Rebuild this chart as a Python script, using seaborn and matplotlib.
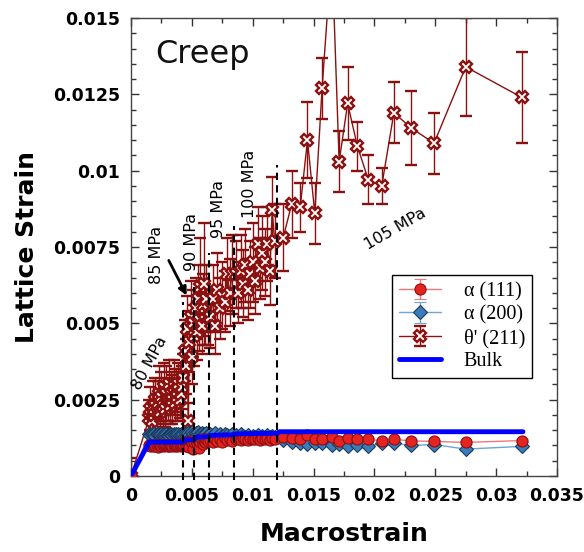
import matplotlib
matplotlib.use("Agg")
import matplotlib.pyplot as plt
import numpy as np
import pandas as pd
import seaborn as sns
from matplotlib.ticker import MultipleLocator, FuncFormatter

# ---------------- data ----------------
macrostrain = [0,
    0.0015, 0.0016, 0.0017, 0.0018, 0.0019, 0.0020, 0.0021, 0.0022, 0.0023, 0.0024,
    0.0025, 0.0026, 0.0027, 0.0028, 0.0029, 0.0030, 0.0031, 0.0032, 0.0033, 0.0034,
    0.0035, 0.0036, 0.0037, 0.0038, 0.0039, 0.0040, 0.0041, 0.0042,
    0.0043, 0.0044, 0.0045, 0.0046, 0.0047, 0.0048, 0.0049, 0.0050, 0.0051, 0.0052,
    0.0053, 0.0054, 0.0055, 0.0056, 0.0057, 0.0058, 0.0059, 0.0060, 0.0061, 0.0062, 0.0063,
    0.0065, 0.0067, 0.0069, 0.0071, 0.0073, 0.0075, 0.0077, 0.0079, 0.0081, 0.0083,
    0.0086, 0.0088, 0.0090, 0.0092, 0.0094, 0.0096, 0.0098, 0.0100, 0.0102, 0.0104,
    0.0106, 0.0108, 0.0110, 0.0112, 0.0114, 0.0116, 0.0118,
    0.0125, 0.0132, 0.0139, 0.0145, 0.0151, 0.0157, 0.0165, 0.0171, 0.0178, 0.0186,
    0.0195, 0.0206, 0.0216, 0.0230, 0.0249, 0.0275, 0.0321]

theta211 = [0,
    0.0019, 0.0022, 0.0018, 0.0023, 0.0020, 0.0025, 0.0021, 0.0024, 0.0027, 0.0021,
    0.0026, 0.0023, 0.0029, 0.0022, 0.0027, 0.0025, 0.0030, 0.0023, 0.0027, 0.0025,
    0.0029, 0.0024, 0.0028, 0.0026, 0.0030, 0.0025, 0.0027, 0.0029,
    0.0032, 0.0041, 0.0036, 0.0048, 0.0018, 0.0044, 0.0052, 0.0039, 0.0050, 0.0046,
    0.0055, 0.0047, 0.0058, 0.0051, 0.0062, 0.0049, 0.0056, 0.0063, 0.0053, 0.0058, 0.0052,
    0.0052, 0.0058, 0.0049, 0.0061, 0.0055, 0.0059, 0.0057, 0.0066, 0.0060, 0.0066,
    0.0066, 0.0060, 0.0067, 0.0063, 0.0069, 0.0061, 0.0066, 0.0070, 0.0064, 0.0076,
    0.0068, 0.0073, 0.0070, 0.0076, 0.0067, 0.0087, 0.0077,
    0.0078, 0.0089, 0.0088, 0.0110, 0.0086, 0.0127, 0.0172, 0.0103, 0.0122, 0.0108,
    0.0097, 0.0095, 0.0119, 0.0114, 0.0109, 0.0134, 0.0124]

theta211_err = [0.0006,
    0.0006, 0.0007, 0.0005, 0.0008, 0.0006, 0.0007, 0.0006, 0.0007, 0.0009, 0.0006,
    0.0008, 0.0007, 0.0008, 0.0006, 0.0009, 0.0007, 0.0008, 0.0006, 0.0007, 0.0008,
    0.0009, 0.0006, 0.0007, 0.0008, 0.0007, 0.0006, 0.0008, 0.0007,
    0.0008, 0.0010, 0.0009, 0.0011, 0.0006, 0.0010, 0.0012, 0.0009, 0.0011, 0.0010,
    0.0010, 0.0009, 0.0011, 0.0010, 0.0016, 0.0009, 0.0010, 0.0020, 0.0010, 0.0011, 0.0009,
    0.0010, 0.0011, 0.0009, 0.0012, 0.0010, 0.0011, 0.0010, 0.0012, 0.0011, 0.0013,
    0.0011, 0.0010, 0.0012, 0.0011, 0.0012, 0.0010, 0.0011, 0.0013, 0.0011, 0.0012,
    0.0010, 0.0012, 0.0011, 0.0012, 0.0011, 0.0011, 0.0012,
    0.0011, 0.0011, 0.0008, 0.00125, 0.0010, 0.0010, 0.0012, 0.0010, 0.0012, 0.0008,
    0.0008, 0.0006, 0.0010, 0.0012, 0.0010, 0.0016, 0.0015]

alpha111 = [0,
    0.00100, 0.00098, 0.00102, 0.00097, 0.00101, 0.00099, 0.00103, 0.00096, 0.00100, 0.00102,
    0.00098, 0.00101, 0.00097, 0.00100, 0.00103, 0.00099, 0.00098, 0.00101, 0.00100, 0.00097,
    0.00102, 0.00099, 0.00101, 0.00098, 0.00100, 0.00103, 0.00097, 0.00100,
    0.00105, 0.00110, 0.00098, 0.00112, 0.00104, 0.00095, 0.00115, 0.00108, 0.00090, 0.00112,
    0.00115, 0.00108, 0.00118, 0.00092, 0.00112, 0.00120, 0.00105, 0.00116, 0.00110, 0.00120, 0.00113,
    0.00118, 0.00112, 0.00122, 0.00115, 0.00120, 0.00110, 0.00123, 0.00117, 0.00121, 0.00114,
    0.00120, 0.00124, 0.00118, 0.00125, 0.00121, 0.00119, 0.00126, 0.00122, 0.00120, 0.00125,
    0.00118, 0.00123, 0.00121, 0.00126, 0.00119, 0.00124, 0.00122,
    0.00128, 0.00125, 0.00120, 0.00133, 0.00120, 0.00122, 0.00128, 0.00115, 0.00123, 0.00122,
    0.00120, 0.00115, 0.00120, 0.00115, 0.00113, 0.00110, 0.00116]

alpha200 = [0,
    0.00136, 0.00133, 0.00138, 0.00134, 0.00137, 0.00132, 0.00136, 0.00139, 0.00134, 0.00135,
    0.00138, 0.00133, 0.00136, 0.00134, 0.00137, 0.00135, 0.00132, 0.00138, 0.00136, 0.00133,
    0.00137, 0.00135, 0.00139, 0.00134, 0.00136, 0.00133, 0.00137, 0.00135,
    0.00138, 0.00132, 0.00142, 0.00130, 0.00140, 0.00135, 0.00128, 0.00143, 0.00136, 0.00131,
    0.00140, 0.00134, 0.00145, 0.00130, 0.00138, 0.00142, 0.00133, 0.00139, 0.00136, 0.00141, 0.00134,
    0.00138, 0.00133, 0.00140, 0.00128, 0.00137, 0.00131, 0.00139, 0.00135, 0.00130, 0.00137,
    0.00133, 0.00128, 0.00136, 0.00130, 0.00127, 0.00134, 0.00125, 0.00131, 0.00129, 0.00135,
    0.00126, 0.00132, 0.00128, 0.00134, 0.00127, 0.00131, 0.00129,
    0.00118, 0.00112, 0.00108, 0.00105, 0.00108, 0.00108, 0.00103, 0.00105, 0.00098, 0.00103,
    0.00098, 0.00108, 0.00108, 0.00100, 0.00103, 0.00088, 0.00097]

alpha_err = 0.00005

bulk_x = [0, 0.0015, 0.0043, 0.0044, 0.0052, 0.0053, 0.0064, 0.0065, 0.0085, 0.0086,
          0.0120, 0.0122, 0.0322]
bulk_y = [0, 0.00111, 0.00111, 0.00118, 0.00119, 0.00127, 0.00129, 0.00133, 0.00135,
          0.00138, 0.00140, 0.00145, 0.00145]

stress_x = [0.0043, 0.0052, 0.0064, 0.0085, 0.0120]
stress_top = [0.0057, 0.0062, 0.0073, 0.0082, 0.0102]
stress_labels = ["80 MPa", "85 MPa", "90 MPa", "95 MPa", "100 MPa", "105 MPa"]

x_ticks = [0, 0.005, 0.01, 0.015, 0.02, 0.025, 0.03, 0.035]
y_ticks = [0, 0.0025, 0.005, 0.0075, 0.01, 0.0125, 0.015]

# ---------------- plotting ----------------
sns.set_theme(style="ticks")
plt.rcParams["font.family"] = ["DejaVu Sans"]

fig = plt.figure(figsize=(5.84, 5.52), dpi=100)
ax = fig.add_axes([0.2243, 0.1377, 0.7295, 0.8297])

x = np.array(macrostrain)

th = ax.errorbar(x, theta211, yerr=theta211_err, color="#8b1010", lw=1.0,
                 marker="X", ms=8, mfc="white", mec="#8b1010", mew=1.7,
                 ecolor="#8b1010", elinewidth=1.0, capsize=4, capthick=1.0,
                 zorder=2, label="θ' (211)")
a2 = ax.errorbar(x, alpha200, yerr=alpha_err, color="#6ea6d8", lw=1.0,
                 marker="D", ms=7.5, mfc="#3a7dbd", mec="#1d3a5c", mew=0.8,
                 ecolor="#6ea6d8", elinewidth=1.0, capsize=4,
                 zorder=3, label="α (200)")
a1 = ax.errorbar(x, alpha111, yerr=alpha_err, color="#f07878", lw=1.0,
                 marker="o", ms=8, mfc="#e52421", mec="#8b0f0f", mew=0.8,
                 ecolor="#f07878", elinewidth=1.0, capsize=4,
                 zorder=4, label="α (111)")

bulk_df = pd.DataFrame({"Macrostrain": bulk_x, "Lattice Strain": bulk_y})
sns.lineplot(data=bulk_df, x="Macrostrain", y="Lattice Strain", ax=ax,
             color="#0000ff", lw=3.5, sort=False, estimator=None,
             zorder=5, label="Bulk")

# dashed stress-step lines
for sx, st in zip(stress_x, stress_top):
    ax.plot([sx, sx], [-0.00012, st], color="black", ls=(0, (3.5, 2.5)),
            lw=1.5, zorder=6, clip_on=False)

# stress labels
lab_kw = dict(fontsize=11.5, color="black", ha="center", va="center", zorder=7)
ax.text(0.00155, 0.0037, stress_labels[0], rotation=62, **lab_kw)
ax.text(0.0021, 0.00725, stress_labels[1], rotation=90, **lab_kw)
ax.text(0.0050, 0.00765, stress_labels[2], rotation=90, **lab_kw)
ax.text(0.0072, 0.00875, stress_labels[3], rotation=90, **lab_kw)
ax.text(0.00975, 0.00958, stress_labels[4], rotation=90, **lab_kw)
ax.text(0.0217, 0.0081, stress_labels[5], rotation=30, **lab_kw)
ax.annotate("", xy=(0.00468, 0.00583), xytext=(0.0030, 0.00714),
            arrowprops=dict(arrowstyle="-|>", color="black", lw=2.0,
                            mutation_scale=12), zorder=7)

ax.text(0.0059, 0.0138, "Creep", fontsize=23, ha="center", va="center",
        color="#111111")

ax.set_xlim(0, 0.035)
ax.set_ylim(0, 0.015)
ax.set_xticks(x_ticks)
ax.set_yticks(y_ticks)
fmt = FuncFormatter(lambda v, p: "%g" % round(v, 6))
ax.xaxis.set_major_formatter(fmt)
ax.yaxis.set_major_formatter(fmt)
ax.xaxis.set_minor_locator(MultipleLocator(0.0025))
ax.yaxis.set_minor_locator(MultipleLocator(0.0005))
ax.tick_params(which="both", direction="in", top=True, right=True,
               color="#333333", width=1.0, labelcolor="black")
ax.tick_params(which="major", length=6, labelsize=12.5, pad=8)
ax.tick_params(which="minor", length=3.5)
for lbl in ax.get_xticklabels() + ax.get_yticklabels():
    lbl.set_fontweight("bold")
for sp in ax.spines.values():
    sp.set_color("#444444")
    sp.set_linewidth(1.0)

ax.set_xlabel("Macrostrain", fontsize=18, fontweight="bold", labelpad=12,
              color="black")
ax.set_ylabel("Lattice Strain", fontsize=18, fontweight="bold", labelpad=10,
              color="black")

handles, labels = ax.get_legend_handles_labels()
order = ["α (111)", "α (200)", "θ' (211)", "Bulk"]
hmap = dict(zip(labels, handles))
leg = ax.legend([hmap[k] for k in order], order, loc="upper left",
                bbox_to_anchor=(0.613, 0.439), frameon=True, fancybox=False,
                edgecolor="black", framealpha=1,
                prop={"family": ["Liberation Serif", "DejaVu Serif"], "size": 14.5},
                handlelength=2.1, handletextpad=1.1, labelspacing=0.2,
                borderpad=0.35, borderaxespad=0)
for t in leg.get_texts():
    t.set_color("black")
leg.get_frame().set_linewidth(1.0)
leg.set_zorder(10)

fig.savefig("out.png", dpi=100)
